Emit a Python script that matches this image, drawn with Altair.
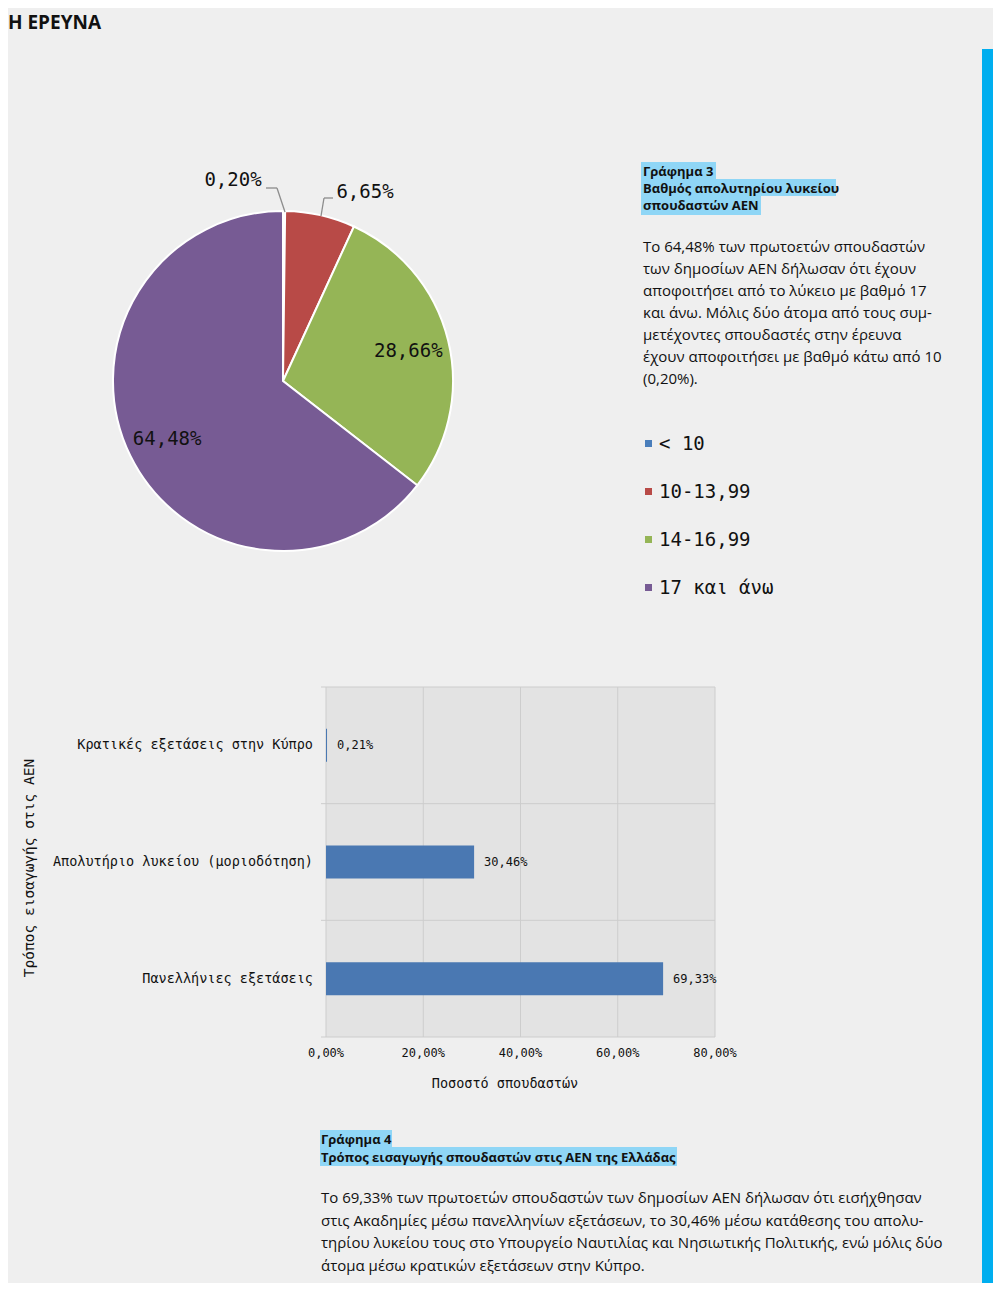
import altair as alt
import pandas as pd

# ---------------- data ----------------
grade_cats = ["< 10", "10-13,99", "14-16,99", "17 και άνω"]
grade_vals = [0.20, 6.65, 28.66, 64.48]
grade_colors = ["#4a7ebb", "#b84a47", "#95b556", "#775b94"]

entry_cats = ["Κρατικές εξετάσεις στην Κύπρο",
              "Απολυτήριο λυκείου (μοριοδότηση)",
              "Πανελλήνιες εξετάσεις"]
entry_vals = [0.21, 30.46, 69.33]

x_ticks = [0, 20, 40, 60, 80]
x_tick_labels = ["0,00%", "20,00%", "40,00%", "60,00%", "80,00%"]

header = "Η ΕΡΕΥΝΑ"
cap3 = ["Γράφημα 3", "Βαθμός απολυτηρίου λυκείου", "σπουδαστών ΑΕΝ"]
body3 = ["Το 64,48% των πρωτοετών σπουδαστών",
         "των δημοσίων ΑΕΝ δήλωσαν ότι έχουν",
         "αποφοιτήσει από το λύκειο με βαθμό 17",
         "και άνω. Μόλις δύο άτομα από τους συμ-",
         "μετέχοντες σπουδαστές στην έρευνα",
         "έχουν αποφοιτήσει με βαθμό κάτω από 10",
         "(0,20%)."]
cap4 = ["Γράφημα 4", "Τρόπος εισαγωγής σπουδαστών στις ΑΕΝ της Ελλάδας"]
body4 = ["Το 69,33% των πρωτοετών σπουδαστών των δημοσίων ΑΕΝ δήλωσαν ότι εισήχθησαν",
         "στις Ακαδημίες μέσω πανελληνίων εξετάσεων, το 30,46% μέσω κατάθεσης του απολυ-",
         "τηρίου λυκείου τους στο Υπουργείο Ναυτιλίας και Νησιωτικής Πολιτικής, ενώ μόλις δύο",
         "άτομα μέσω κρατικών εξετάσεων στην Κύπρο."]
x_title = "Ποσοστό σπουδαστών"
y_title = "Τρόπος εισαγωγής στις ΑΕΝ"


def pct(v):
    return f"{v:.2f}".replace(".", ",") + "%"


MONO = "DejaVu Sans Mono"
SANS = "Open Sans"

pie_df = pd.DataFrame({
    "cat": grade_cats,
    "val": grade_vals,
    "ord": list(range(len(grade_cats))),
    "lbl": [pct(v) for v in grade_vals],
})
pie_df["lbl_in"] = [l if v > 10 else "" for l, v in zip(pie_df["lbl"], grade_vals)]

bar_df = pd.DataFrame({"cat": entry_cats, "val": entry_vals,
                       "lbl": [pct(v) for v in entry_vals]})
tick_df = pd.DataFrame({"t": x_ticks, "lbl": x_tick_labels})
one = pd.DataFrame({"k": [0]})

CX, CY, R = 275, 373, 170

color_scale = alt.Scale(domain=grade_cats, range=grade_colors)
xs = alt.Scale(domain=[0, 80], range=[318, 707], nice=False)
ys = alt.Scale(domain=entry_cats, range=[679, 1029], paddingInner=0, paddingOuter=0)

layers = []

# right blue band
layers.append(alt.Chart(one).mark_rect(color="#00aeef").encode(
    x=alt.value(974), x2=alt.value(985), y=alt.value(41), y2=alt.value(1275)))

# header
layers.append(alt.Chart(one).mark_text(align="left", baseline="alphabetic", font=SANS,
                                       fontSize=19, fontWeight="bold", color="#111").encode(
    x=alt.value(0), y=alt.value(21), text=alt.value(header)))

# ---------------- pie ----------------
layers.append(alt.Chart(pie_df).mark_arc(outerRadius=R, stroke="white", strokeWidth=2).encode(
    theta=alt.Theta("val:Q", stack=True),
    color=alt.Color("cat:N", scale=color_scale, sort=grade_cats,
                    legend=alt.Legend(orient="none", legendX=631, legendY=426, title=None,
                                      symbolType="square", symbolSize=49, symbolStrokeWidth=0,
                                      labelFont=MONO, labelFontSize=19, labelColor="#111",
                                      rowPadding=28, labelOffset=1)),
    order=alt.Order("ord:Q"),
    x=alt.value(CX), y=alt.value(CY)))

layers.append(alt.Chart(pie_df).mark_text(radius=129, font=MONO, fontSize=19, color="#111").encode(
    theta=alt.Theta("val:Q", stack=True),
    order=alt.Order("ord:Q"),
    text="lbl_in:N",
    x=alt.value(CX), y=alt.value(CY + 1)))

# outer labels with leaders
layers.append(alt.Chart(one).mark_text(font=MONO, fontSize=19, color="#111", baseline="middle").encode(
    x=alt.value(225), y=alt.value(172), text=alt.value(pie_df["lbl"][0])))
layers.append(alt.Chart(one).mark_text(font=MONO, fontSize=19, color="#111", baseline="middle").encode(
    x=alt.value(357), y=alt.value(184), text=alt.value(pie_df["lbl"][1])))
for (a, b, c, d) in [(258, 180, 269, 180), (269, 180, 277, 204), (325, 190, 316, 190), (316, 190, 313, 208)]:
    layers.append(alt.Chart(one).mark_rule(color="#8c8c8c", strokeWidth=1.3).encode(
        x=alt.value(a), y=alt.value(b), x2=alt.value(c), y2=alt.value(d)))

# caption 3
for (x1, y1, x2, y2) in [(633, 154, 708, 171), (633, 171, 828, 188), (633, 188, 753, 207)]:
    layers.append(alt.Chart(one).mark_rect(color="#8fd6f6").encode(
        x=alt.value(x1), x2=alt.value(x2), y=alt.value(y1), y2=alt.value(y2)))
layers.append(alt.Chart(one).mark_text(align="left", baseline="alphabetic", font=SANS, fontSize=13,
                                       fontWeight="bold", lineHeight=17, color="#111").encode(
    x=alt.value(635), y=alt.value(168), text=alt.value(cap3)))
layers.append(alt.Chart(one).mark_text(align="left", baseline="alphabetic", font=SANS, fontSize=15,
                                       lineHeight=22, color="#111").encode(
    x=alt.value(635), y=alt.value(244), text=alt.value(body3)))

# ---------------- bar chart ----------------
layers.append(alt.Chart(one).mark_rect(color="#e3e3e3").encode(
    x=alt.value(318), x2=alt.value(707), y=alt.value(679), y2=alt.value(1029)))
layers.append(alt.Chart(tick_df).mark_rule(color="#cdcdcd", strokeWidth=1).encode(
    x=alt.X("t:Q", scale=xs, axis=None), y=alt.value(679), y2=alt.value(1029)))
layers.append(alt.Chart(bar_df).mark_rule(color="#cdcdcd", strokeWidth=1).encode(
    y=alt.Y("cat:N", scale=ys, axis=None, bandPosition=0), x=alt.value(313), x2=alt.value(707)))
layers.append(alt.Chart(one).mark_rule(color="#cdcdcd", strokeWidth=1).encode(
    y=alt.value(1029), x=alt.value(313), x2=alt.value(707)))
layers.append(alt.Chart(bar_df).mark_bar(size=33, color="#4a78b2").encode(
    x=alt.X("val:Q", scale=xs, axis=None),
    y=alt.Y("cat:N", scale=ys, axis=None)))
layers.append(alt.Chart(bar_df).mark_text(align="left", baseline="middle", dx=10, font=MONO,
                                          fontSize=12, color="#111").encode(
    x=alt.X("val:Q", scale=xs, axis=None),
    y=alt.Y("cat:N", scale=ys, axis=None),
    text="lbl:N"))
layers.append(alt.Chart(bar_df).mark_text(align="right", baseline="middle", font=MONO,
                                          fontSize=13.5, color="#111").encode(
    y=alt.Y("cat:N", scale=ys, axis=None), x=alt.value(305), text="cat:N"))
layers.append(alt.Chart(tick_df).mark_text(align="center", baseline="middle", font=MONO,
                                           fontSize=12, color="#111").encode(
    x=alt.X("t:Q", scale=xs, axis=None), y=alt.value(1045), text="lbl:N"))
layers.append(alt.Chart(one).mark_text(align="center", baseline="middle", font=MONO,
                                       fontSize=13.5, color="#111").encode(
    x=alt.value(497), y=alt.value(1076), text=alt.value(x_title)))
layers.append(alt.Chart(one).mark_text(align="center", baseline="middle", font=MONO, angle=270,
                                       fontSize=14.5, color="#111").encode(
    x=alt.value(22), y=alt.value(860), text=alt.value(y_title)))

# caption 4
for (x1, y1, x2, y2) in [(312, 1122, 384, 1139), (312, 1139, 669, 1158)]:
    layers.append(alt.Chart(one).mark_rect(color="#8fd6f6").encode(
        x=alt.value(x1), x2=alt.value(x2), y=alt.value(y1), y2=alt.value(y2)))
layers.append(alt.Chart(one).mark_text(align="left", baseline="alphabetic", font=SANS, fontSize=13,
                                       fontWeight="bold", lineHeight=18, color="#111").encode(
    x=alt.value(313), y=alt.value(1136), text=alt.value(cap4)))
layers.append(alt.Chart(one).mark_text(align="left", baseline="alphabetic", font=SANS, fontSize=15,
                                       lineHeight=22.5, color="#111").encode(
    x=alt.value(313), y=alt.value(1195), text=alt.value(body4)))

chart = alt.layer(*layers).properties(
    width=985, height=1275, padding=0, autosize="none", background="#efefef"
).configure_view(stroke=None)

chart.save("out.html", embed_options={"renderer": "svg", "actions": False})
